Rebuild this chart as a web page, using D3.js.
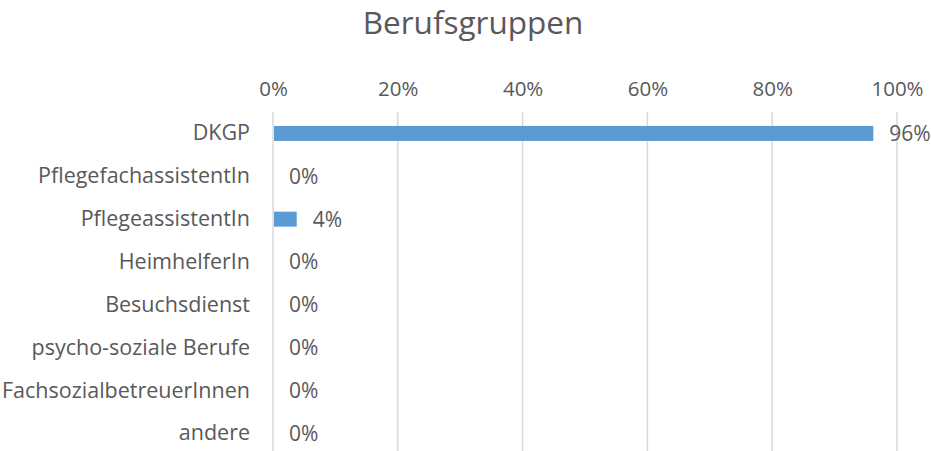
<!DOCTYPE html>
<html>
<head>
<meta charset="utf-8">
<script src="https://cdn.jsdelivr.net/npm/d3@7"></script>
<style>
  body { margin: 0; background: #fff; overflow: hidden; }
  text { font-family: "Open Sans", sans-serif; fill: #595959; }
</style>
</head>
<body>
<div id="chart"></div>
<script>
// data
const categories = ["DKGP", "PflegefachassistentIn", "PflegeassistentIn", "HeimhelferIn",
    "Besuchsdienst", "psycho-soziale Berufe", "FachsozialbetreuerInnen", "andere"];
const shares = [0.962, 0, 0.038, 0, 0, 0, 0, 0];
const tickValues = [0, 0.2, 0.4, 0.6, 0.8, 1.0];

const W = 931, H = 451;
const margin = { top: 112, right: 34, left: 273 };
const width = W - margin.left - margin.right;
const height = 343;

const svg = d3.select("#chart")
    .append("svg")
    .attr("width", W)
    .attr("height", H)
    .style("display", "block");

const g = svg.append("g")
    .attr("transform", `translate(${margin.left}, ${margin.top})`);

const x = d3.scaleLinear().domain([0, 1]).range([0, width]);
const y = d3.scaleBand().domain(categories).range([0, height]).paddingInner(0.65).paddingOuter(0.325);

// title
svg.append("text")
    .attr("x", 473)
    .attr("y", 34)
    .attr("text-anchor", "middle")
    .style("font-size", "31.5px")
    .text("Berufsgruppen");

// grid lines
g.selectAll(".grid")
    .data(tickValues)
    .join("line")
    .attr("x1", d => x(d)).attr("x2", d => x(d))
    .attr("y1", 0).attr("y2", height)
    .attr("stroke", "#d9d9d9")
    .attr("stroke-width", 1.5);

// top axis
g.append("g")
    .attr("transform", "translate(0, -16)")
    .call(d3.axisTop(x).tickValues(tickValues).tickSize(0).tickPadding(0).tickFormat(d3.format(".0%")))
    .call(a => a.select(".domain").remove())
    .selectAll("text")
    .style("font-size", "20.5px")
    .style("fill", "#595959");

// left axis
g.append("g")
    .call(d3.axisLeft(y).tickSize(0).tickPadding(23))
    .call(a => a.select(".domain").remove())
    .selectAll("text")
    .style("font-size", "21.5px")
    .style("fill", "#595959");

// bars
g.selectAll(".bar")
    .data(categories)
    .join("rect")
    .attr("x", x(0) + 1)
    .attr("y", d => y(d))
    .attr("width", (d, i) => Math.max(0, x(shares[i]) - 1))
    .attr("height", y.bandwidth())
    .attr("fill", "#5b9bd5");

// data labels
g.selectAll(".lbl")
    .data(categories)
    .join("text")
    .attr("x", (d, i) => x(shares[i]) + 16)
    .attr("y", d => y(d) + y.bandwidth() / 2)
    .attr("dy", "0.35em")
    .style("font-size", "21px")
    .text((d, i) => d3.format(".0%")(shares[i]));
</script>
</body>
</html>
